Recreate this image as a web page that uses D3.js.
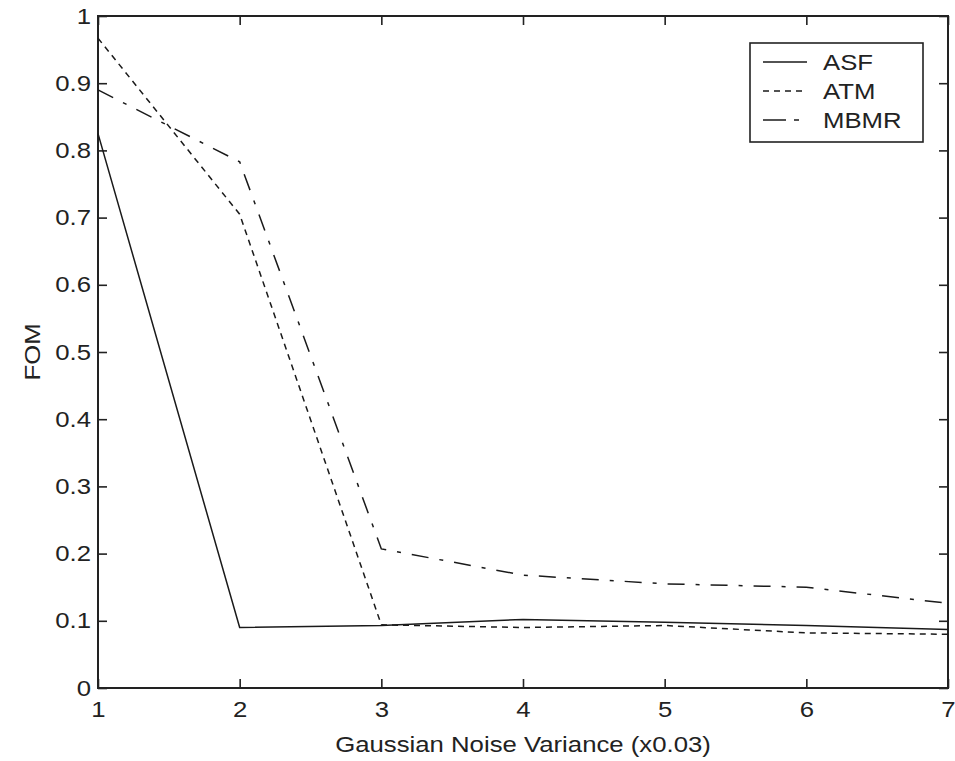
<!DOCTYPE html>
<html>
<head>
<meta charset="utf-8">
<script src="https://cdn.jsdelivr.net/npm/d3@7"></script>
<style>
  body { margin: 0; background: #fff; }
  text { font-family: "Liberation Sans", Arial, sans-serif; fill: #222; }
</style>
</head>
<body>
<script>
var w = 955
var h = 761

// noise variance steps (x0.03)
var xValues = [ 1, 2, 3, 4, 5, 6, 7 ];

var asf  = [ 0.825, 0.090, 0.093, 0.102, 0.098, 0.093, 0.087 ];
var atm  = [ 0.967, 0.705, 0.094, 0.090, 0.093, 0.082, 0.080 ];
var mbmr = [ 0.890, 0.783, 0.207, 0.168, 0.155, 0.150, 0.126 ];

var seriesNames = [ "ASF", "ATM", "MBMR" ];
var yTicks = [ 0, 0.1, 0.2, 0.3, 0.4, 0.5, 0.6, 0.7, 0.8, 0.9, 1 ];

// plot box edges (note: "top" is taken by window.top)
var pLeft = 98, pRight = 948, pTop = 16, pBottom = 688;
var stretch = "scale(1.17,1)"; // the source glyphs are wider than Arial

var x = d3.scaleLinear().domain([1, 7]).range([pLeft, pRight]);
var y = d3.scaleLinear().domain([0, 1]).range([pBottom, pTop]);

var dashes = [ null, "6,5", "17,11,4,11" ];

var svg = d3.select("body").append("svg")
    .attr("width", w)
    .attr("height", h);

// axes, ticks point inward like matlab
var fmt = function(d) { return String(+d.toFixed(1)); };

svg.append("g")
    .attr("transform", "translate(0," + pBottom + ")")
    .call(d3.axisBottom(x).tickValues(xValues).tickSize(-9).tickPadding(13).tickFormat(d3.format("d")));

svg.append("g")
    .attr("transform", "translate(0," + pTop + ")")
    .call(d3.axisTop(x).tickValues(xValues).tickSize(-9).tickFormat(""));

var yAxis = svg.append("g")
    .attr("transform", "translate(" + pLeft + ",0)")
    .call(d3.axisLeft(y).tickValues(yTicks).tickSize(-9).tickPadding(6).tickFormat(fmt));

svg.append("g")
    .attr("transform", "translate(" + pRight + ",0)")
    .call(d3.axisRight(y).tickValues(yTicks).tickSize(-9).tickFormat(""));

svg.selectAll(".domain").remove();
svg.selectAll(".tick line").attr("stroke", "#222").attr("stroke-width", 1.6);
svg.selectAll(".tick text")
    .style("font-size", "22px")
    .style("font-family", "Liberation Sans, Arial, sans-serif")
    .attr("fill", "#222")
    .attr("transform", stretch);

// box frame
svg.append("rect")
    .attr("x", pLeft)
    .attr("y", pTop)
    .attr("width", pRight - pLeft)
    .attr("height", pBottom - pTop)
    .attr("fill", "none")
    .attr("stroke", "#222")
    .attr("stroke-width", 2);

// lines
var lineGen = d3.line()
    .x(function(d, i) { return x(xValues[i]); })
    .y(function(d) { return y(d); });

var allSeries = [ asf, atm, mbmr ];

svg.selectAll("path.series").data(allSeries).enter()
  .append("path")
    .attr("class", "series")
    .attr("fill", "none")
    .attr("stroke", "#1a1a1a")
    .attr("stroke-width", 1.5)
    .attr("stroke-dasharray", function(d, i) { return dashes[i]; })
    .attr("d", lineGen);

// axis titles
svg.append("text")
    .attr("transform", "translate(" + ((pLeft + pRight) / 2) + ",752) " + stretch)
    .attr("text-anchor", "middle")
    .style("font-size", "22px")
    .text("Gaussian Noise Variance (x0.03)");

svg.append("text")
    .attr("transform", "translate(40," + ((pTop + pBottom) / 2) + ") rotate(-90) " + stretch)
    .attr("text-anchor", "middle")
    .style("font-size", "22px")
    .text("FOM");

// legend
var legend = svg.append("g").attr("transform", "translate(750,43)");

legend.append("rect")
    .attr("width", 173)
    .attr("height", 99)
    .attr("fill", "#fff")
    .attr("stroke", "#222")
    .attr("stroke-width", 1.6);

var rows = legend.selectAll("g.row").data(seriesNames).enter()
  .append("g")
    .attr("class", "row")
    .attr("transform", function(d, i) { return "translate(0," + (19 + i * 29) + ")"; });

rows.append("line")
    .attr("x1", 13)
    .attr("x2", 57)
    .attr("stroke", "#1a1a1a")
    .attr("stroke-width", 1.5)
    .attr("stroke-dasharray", function(d, i) { return i == 2 ? "23,8,5,20" : dashes[i]; });

rows.append("text")
    .attr("transform", "translate(73,0) " + stretch)
    .attr("dy", "0.36em")
    .style("font-size", "22px")
    .text(function(d) { return d; });
</script>
</body>
</html>
